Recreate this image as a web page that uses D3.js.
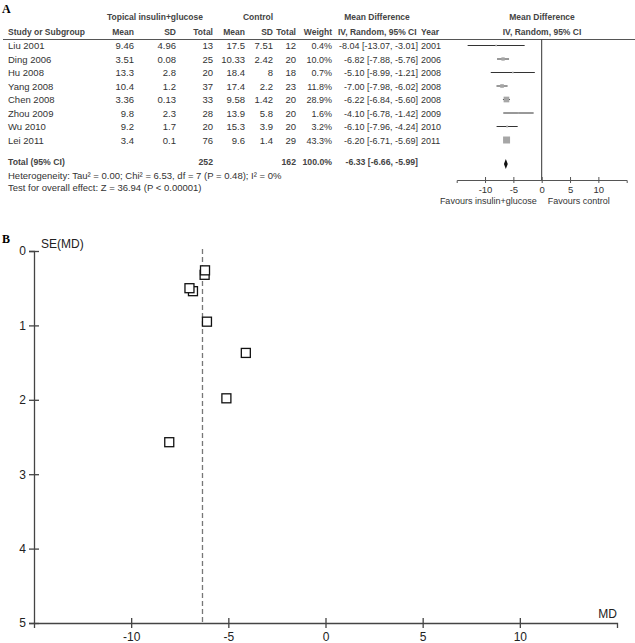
<!DOCTYPE html>
<html>
<head>
<meta charset="utf-8">
<script src="https://cdn.jsdelivr.net/npm/d3@7"></script>
<style>
  body { margin: 0; background: #fff; }
  svg { display: block; font-family: "Liberation Sans", Arial, sans-serif; }
</style>
</head>
<body>
<div id="chart"></div>
<script>
// forest plot table
const studies = ["Liu 2001", "Ding 2006", "Hu 2008", "Yang 2008", "Chen 2008", "Zhou 2009", "Wu 2010", "Lei 2011"];
const expMean = [9.46, 3.51, 13.3, 10.4, 3.36, 9.8, 9.2, 3.4];
const expSD = [4.96, 0.08, 2.8, 1.2, 0.13, 2.3, 1.7, 0.1];
const expN = [13, 25, 20, 37, 33, 28, 20, 76];
const ctlMean = [17.5, 10.33, 18.4, 17.4, 9.58, 13.9, 15.3, 9.6];
const ctlSD = [7.51, 2.42, 8, 2.2, 1.42, 5.8, 3.9, 1.4];
const ctlN = [12, 20, 18, 23, 20, 20, 20, 29];
const weights = [0.4, 10.0, 0.7, 11.8, 28.9, 1.6, 3.2, 43.3];
const md = [-8.04, -6.82, -5.10, -7.00, -6.22, -4.10, -6.10, -6.20];
const ciLow = [-13.07, -7.88, -8.99, -7.98, -6.84, -6.78, -7.96, -6.71];
const ciHigh = [-3.01, -5.76, -1.21, -6.02, -5.60, -1.42, -4.24, -5.69];
const years = [2001, 2006, 2008, 2008, 2008, 2009, 2010, 2011];
const pooled = [-6.33, -6.66, -5.99];
const totalN = [252, 162];
const totalWeight = 100.0;
// funnel plot
const seMD = [2.57, 0.54, 1.98, 0.50, 0.32, 1.37, 0.95, 0.26];
const mdTicks = [-10, -5, 0, 5, 10];
const seTicks = [0, 1, 2, 3, 4, 5];

const W = 635, H = 643;
const svg = d3.select("#chart").append("svg").attr("width", W).attr("height", H);
const f2 = d3.format(".2f"), f1 = d3.format(".1f");
const num = (v) => String(v);           // plain hyphen minus, like the original
const fix2 = (v) => f2(v).replace("−", "-");
const dark = "#333";

// ---------- panel A ----------
const A = svg.append("g");
A.append("text").attr("x", 2).attr("y", 13).text("A")
  .style("font-family", "'Liberation Serif', serif").style("font-weight", "bold").style("font-size", "12px");

const head = (x, y, t, anchor) => A.append("text").attr("x", x).attr("y", y).attr("text-anchor", anchor || "start")
  .style("font-size", "8.5px").style("font-weight", "bold").attr("fill", "#444").text(t);

head(155, 20, "Topical insulin+glucose", "middle");
head(258, 20, "Control", "middle");
head(377, 20, "Mean Difference", "middle");
head(542, 20, "Mean Difference", "middle");
head(8, 35, "Study or Subgroup");
head(134, 35, "Mean", "end");
head(176, 35, "SD", "end");
head(213, 35, "Total", "end");
head(245, 35, "Mean", "end");
head(273, 35, "SD", "end");
head(296, 35, "Total", "end");
head(332, 35, "Weight", "end");
head(338, 35, "IV, Random, 95% CI");
head(421, 35, "Year");
head(542, 35, "IV, Random, 95% CI", "middle");

A.append("line").attr("x1", 3).attr("x2", 635).attr("y1", 39.5).attr("y2", 39.5)
  .attr("stroke", "#555").attr("stroke-width", 1);

const yRow = d3.scaleLinear().domain([0, 7]).range([45.5, 140]);
const xF = d3.scaleLinear().domain([-15, 15]).range([456.7, 626.7]);

const cell = (x, y, t, anchor, size) => A.append("text").attr("x", x).attr("y", y + 3.5)
  .attr("text-anchor", anchor || "end").style("font-size", (size || 9.5) + "px").attr("fill", dark).text(t);

studies.forEach((s, i) => {
  const y = yRow(i);
  cell(8, y, s, "start");
  cell(134, y, num(expMean[i]));
  cell(176, y, num(expSD[i]));
  cell(213, y, num(expN[i]));
  cell(245, y, num(ctlMean[i]));
  cell(273, y, num(ctlSD[i]));
  cell(296, y, num(ctlN[i]));
  cell(332, y, f1(weights[i]) + "%", "end", 9);
  cell(418, y, `${fix2(md[i])} [${fix2(ciLow[i])}, ${fix2(ciHigh[i])}]`, "end", 9);
  cell(421, y, num(years[i]), "start", 9);
});

// total rows
const yTot = 161;
const bold = (x, t) => A.append("text").attr("x", x).attr("y", yTot + 3.5).attr("text-anchor", x < 20 ? "start" : "end")
  .style("font-size", "8.7px").style("font-weight", "bold").attr("fill", "#444").text(t);
bold(8, "Total (95% CI)");
bold(213, totalN[0]);
bold(296, totalN[1]);
bold(332, f1(totalWeight) + "%");
bold(418, `${fix2(pooled[0])} [${fix2(pooled[1])}, ${fix2(pooled[2])}]`);
cell(8, 175, "Heterogeneity: Tau² = 0.00; Chi² = 6.53, df = 7 (P = 0.48); I² = 0%", "start");
cell(8, 187, "Test for overall effect: Z = 36.94 (P < 0.00001)", "start");

// forest graphics
const axisY = 180;
A.append("line").attr("x1", xF(0)).attr("x2", xF(0)).attr("y1", 39.5).attr("y2", axisY)
  .attr("stroke", dark).attr("stroke-width", 1);

studies.forEach((s, i) => {
  const y = yRow(i);
  A.append("line").attr("x1", xF(ciLow[i])).attr("x2", xF(ciHigh[i])).attr("y1", y).attr("y2", y)
    .attr("stroke", dark).attr("stroke-width", 1);
  const side = Math.max(1.6, 1.06 * Math.sqrt(weights[i]));
  A.append("rect").attr("x", xF(md[i]) - side / 2).attr("y", y - side / 2)
    .attr("width", side).attr("height", side).attr("fill", "#a6a6a6");
});

A.append("path")
  .attr("d", `M${xF(pooled[1])},${yTot + 3} L${xF(pooled[0])},${yTot - 2} L${xF(pooled[2])},${yTot + 3} L${xF(pooled[0])},${yTot + 8} Z`)
  .attr("fill", "#111");

const axF = A.append("g").attr("transform", `translate(0,${axisY})`)
  .call(d3.axisBottom(xF).tickValues(mdTicks).tickFormat(num).tickSizeOuter(0).tickSize(3).tickPadding(3));
axF.select(".domain").attr("stroke", "#555");
axF.selectAll(".tick line").attr("y1", -3).attr("stroke", "#555");
axF.selectAll(".tick text").style("font-size", "9.5px").style("font-family", "'Liberation Sans', Arial, sans-serif").attr("fill", dark);

A.append("text").attr("x", xF(0) - 5).attr("y", 204).attr("text-anchor", "end").style("font-size", "9px")
  .attr("fill", dark).text("Favours insulin+glucose");
A.append("text").attr("x", xF(0) + 6).attr("y", 204).style("font-size", "9px")
  .attr("fill", dark).text("Favours control");

// ---------- panel B ----------
const B = svg.append("g");
B.append("text").attr("x", 2).attr("y", 243).text("B")
  .style("font-family", "'Liberation Serif', serif").style("font-weight", "bold").style("font-size", "12px");

const xB = d3.scaleLinear().domain([-15, 15]).range([34, 617]);
const yB = d3.scaleLinear().domain([0, 5]).range([251, 623]);

const axX = B.append("g").attr("transform", `translate(0,${yB(5)})`)
  .call(d3.axisBottom(xB).tickValues(mdTicks).tickFormat(num).tickSizeOuter(0).tickSize(5).tickPadding(4));
const axY = B.append("g").attr("transform", `translate(${xB(-15)},0)`)
  .call(d3.axisLeft(yB).tickValues(seTicks).tickFormat(num).tickSizeOuter(0).tickSize(5).tickPadding(3));
[axX, axY].forEach(ax => {
  ax.select(".domain").attr("stroke", "#444").attr("stroke-width", 1.3);
  ax.selectAll(".tick line").attr("stroke", "#444").attr("stroke-width", 1.3);
  ax.selectAll(".tick text").style("font-size", "12px").style("font-family", "'Liberation Sans', Arial, sans-serif").attr("fill", "#222");
});
axX.selectAll(".tick line").attr("y1", -5);
axY.selectAll(".tick line").attr("x1", 5);

B.append("line").attr("x1", xB(pooled[0])).attr("x2", xB(pooled[0])).attr("y1", yB(0) - 2).attr("y2", yB(5))
  .attr("stroke", "#777").attr("stroke-width", 1.3).attr("stroke-dasharray", "5,3");

B.selectAll("rect.pt").data(md).enter().append("rect").attr("class", "pt")
  .attr("x", (d) => xB(d) - 4.5).attr("y", (d, i) => yB(seMD[i]) - 4.5)
  .attr("width", 9).attr("height", 9)
  .attr("fill", "#fff").attr("stroke", "#111").attr("stroke-width", 1.3);

B.append("text").attr("x", 41).attr("y", 248).style("font-size", "12px").attr("fill", "#222").text("SE(MD)");
B.append("text").attr("x", 617).attr("y", 618).attr("text-anchor", "end").style("font-size", "12px")
  .attr("fill", "#222").text("MD");
</script>
</body>
</html>
